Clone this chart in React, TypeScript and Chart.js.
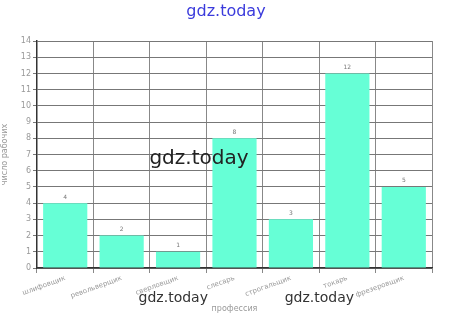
import React, { useEffect, useRef } from "react";
import { Chart, registerables } from "chart.js";

Chart.register(...registerables);

const categories = ["шлифовщик", "револьверщик", "сверловщик", "слесарь", "строгальщик", "токарь", "фрезеровщик"];
const workers = [4, 2, 1, 8, 3, 12, 5];
const yTicks = [0, 1, 2, 3, 4, 5, 6, 7, 8, 9, 10, 11, 12, 13, 14];

const overlay = {
  id: "overlay",
  afterDatasetsDraw(chart: any) {
    const ctx = chart.ctx;
    const meta = chart.getDatasetMeta(0);
    ctx.save();
    ctx.fillStyle = "#777";
    ctx.font = "6px 'DejaVu Sans'";
    ctx.textAlign = "center";
    ctx.textBaseline = "bottom";
    meta.data.forEach((bar: any, i: number) => {
      ctx.fillText(String(workers[i]), bar.x, bar.y - 3);
    });
    ctx.restore();
  },
  afterDraw(chart: any) {
    const ctx = chart.ctx;
    const a = chart.chartArea;
    ctx.save();
    ctx.textAlign = "center";
    ctx.textBaseline = "middle";
    ctx.fillStyle = "#3b3bdc";
    ctx.font = "16px 'DejaVu Sans'";
    ctx.fillText("gdz.today", chart.width / 2, 12);
    ctx.fillStyle = "#222";
    ctx.font = "20px 'DejaVu Sans'";
    ctx.fillText("gdz.today", a.left + (a.right - a.left) * 0.41, (a.top + a.bottom) / 2 + 4);
    ctx.fillStyle = "#333";
    ctx.font = "14px 'DejaVu Sans'";
    ctx.fillText("gdz.today", a.left + (a.right - a.left) * 0.345, chart.height - 24);
    ctx.fillText("gdz.today", a.left + (a.right - a.left) * 0.715, chart.height - 24);
    ctx.restore();
  },
};

export default function App() {
  const ref = useRef<HTMLCanvasElement>(null);
  useEffect(() => {
    const chart = new Chart(ref.current!, {
      type: "bar",
      data: {
        labels: categories,
        datasets: [
          {
            data: workers,
            backgroundColor: "#66ffd6",
            borderWidth: 0,
            barPercentage: 0.9,
            categoryPercentage: 0.87,
          },
        ],
      },
      options: {
        animation: false,
        responsive: false,
        layout: { padding: { top: 41, right: 20, bottom: 8, left: 0 } },
        plugins: { legend: { display: false }, tooltip: { enabled: false } },
        scales: {
          x: {
            grid: { color: "#888", lineWidth: 1, tickLength: 5, offset: true },
            border: { color: "#333", width: 1.5 },
            ticks: {
              color: "#999",
              font: { size: 7, family: "DejaVu Sans" },
              minRotation: 20,
              maxRotation: 20,
              padding: 1,
            },
            title: {
              display: true,
              text: "профессия",
              color: "#999",
              font: { size: 8, family: "DejaVu Sans" },
              padding: 0,
            },
            afterFit(scale: any) {
              scale.height = 46;
            },
          },
          y: {
            min: 0,
            max: 14,
            afterBuildTicks(scale: any) {
              scale.ticks = yTicks.map((v) => ({ value: v }));
            },
            grid: { color: "#777", lineWidth: 1, tickLength: 4 },
            border: { color: "#333", width: 1.5 },
            ticks: { color: "#999", font: { size: 8, family: "DejaVu Sans" }, padding: 2 },
            title: {
              display: true,
              text: "число рабочих",
              color: "#999",
              font: { size: 8, family: "DejaVu Sans" },
              padding: 0,
            },
            afterFit(scale: any) {
              scale.width = 37;
            },
          },
        },
      },
      plugins: [overlay],
    });
    return () => chart.destroy();
  }, []);
  return (
    <div style={{ position: "fixed", left: 0, top: 0, width: 452, height: 322, background: "#fff" }}>
      <canvas ref={ref} width={452} height={322} style={{ width: 452, height: 322 }} />
    </div>
  );
}
